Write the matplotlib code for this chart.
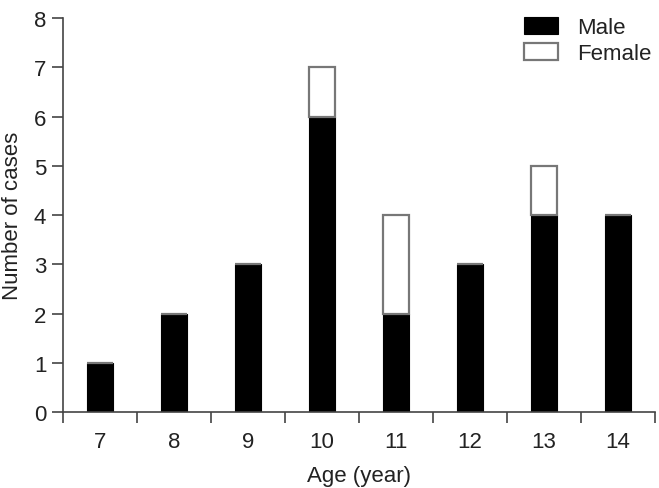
import matplotlib.pyplot as plt
import numpy as np

# data
ages = ["7", "8", "9", "10", "11", "12", "13", "14"]
male = [1, 2, 3, 6, 2, 3, 4, 4]
female = [0, 0, 0, 1, 2, 0, 1, 0]

plt.rcParams['font.family'] = ['Liberation Sans', 'DejaVu Sans']
fs = 16

fig = plt.figure(figsize=(6.59, 4.89), dpi=100)
ax = fig.add_axes([0.0956, 0.1554, 0.8984, 0.8056])

x = np.arange(len(ages))
w = 0.36
ax.bar(x, male, width=w, color="black", edgecolor="black", linewidth=0.8, label="Male")
ax.bar(x, female, width=w, bottom=male, color="white", edgecolor="#777777",
       linewidth=1.6, label="Female")

ax.set_xlim(-0.5, len(ages) - 0.5)
ax.set_ylim(0, 8)
ax.set_yticks(range(0, 9))

# labels under bars, tick marks between categories
ax.set_xticks(x)
ax.set_xticklabels(ages)
ax.tick_params(axis="x", which="major", length=0, pad=14)
ax.set_xticks(np.arange(-0.5, len(ages), 1), minor=True)
ax.tick_params(axis="x", which="minor", length=8, width=1.2, color="#444444", direction="out")
ax.tick_params(axis="y", length=8, width=1.2, color="#444444", direction="out", pad=4)
ax.tick_params(labelsize=fs, labelcolor="#222222")

for s in ["top", "right"]:
    ax.spines[s].set_visible(False)
for s in ["left", "bottom"]:
    ax.spines[s].set_color("#444444")
    ax.spines[s].set_linewidth(1.2)

ax.set_ylabel("Number of cases", fontsize=fs, color="#222222", labelpad=8)
ax.set_xlabel("Age (year)", fontsize=fs, color="#222222", labelpad=9)

ax.legend(loc="upper right", bbox_to_anchor=(1.027, 1.053), frameon=False, fontsize=fs,
          handlelength=1.5, handleheight=0.8, handletextpad=0.85, labelspacing=0.2,
          labelcolor="#222222")

fig.savefig("out.png", dpi=100)
